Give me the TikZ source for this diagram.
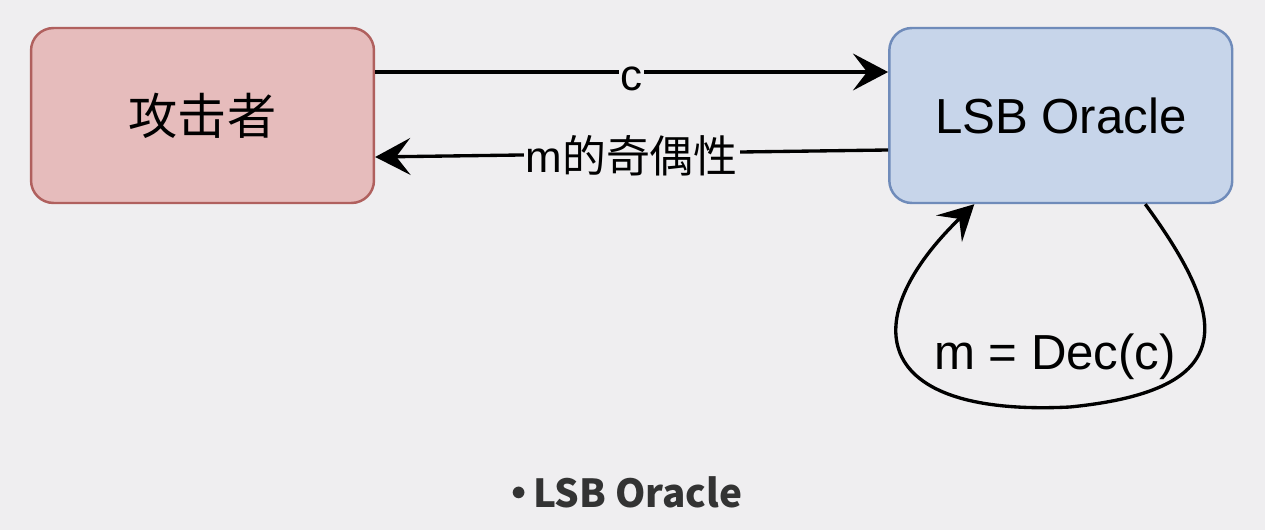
\documentclass[tikz,border=0pt]{standalone}
\usepackage{fontspec}
\setmainfont{Liberation Sans}
\newfontfamily\cjk{Noto Sans CJK SC}
\usepackage{tikz}
\usetikzlibrary{arrows.meta,positioning,calc}
\definecolor{bggray}{HTML}{EFEEF0}
\definecolor{redfill}{HTML}{E6BCBC}
\definecolor{redline}{HTML}{B0605E}
\definecolor{bluefill}{HTML}{C7D5EA}
\definecolor{blueline}{HTML}{6F8BBA}
\definecolor{textgray}{HTML}{333333}

\begin{document}
\begin{tikzpicture}[x=0.02cm, y=-0.02cm, node distance=10.26cm, every node/.style={font=\fontsize{28}{32}\selectfont}]
\tikzstyle{party}=[draw, line width=1.4pt, rounded corners=0.45cm, align=center, minimum width=6.86cm, minimum height=3.5cm, inner sep=0pt]
\tikzstyle{msg}=[fill=bggray, inner sep=1pt, font=\fontsize{25}{30}\selectfont]
\tikzstyle{link}=[-{Stealth[length=20pt, width=21pt, inset=8pt]}, line width=1.9pt]
% background and page size
\fill[bggray] (0,0) rectangle (1265,530);
\useasboundingbox (0,0) rectangle (1265,530);
\node[party, fill=redfill, draw=redline] (attacker) at (202.5,115.5) {\cjk 攻击者};
\node[party, fill=bluefill, draw=blueline, right=of attacker] (oracle) {LSB Oracle};
% messages
\draw[link] ([yshift=0.87cm]attacker.east) -- node[msg, yshift=-0.14cm] (c) {c} ([yshift=0.87cm]oracle.west);
\draw[link] ([yshift=-0.69cm]oracle.west) -- node[msg, yshift=-0.04cm] (parity) {m{\cjk 的奇偶性}} ([yshift=-0.83cm]attacker.east);
% decryption loop
\node (dec) at (1055,357) {m = Dec(c)};
\draw[link] ([xshift=1.69cm]oracle.south) .. controls (1230,320) and (1240,390) .. (1070,407)
  .. controls (870,417) and (855,320) .. ([xshift=-1.73cm]oracle.south);
\node[font=\cjk\bfseries\fontsize{22}{26}\selectfont, text=textgray] (title) at (627,492) {\raisebox{0.32ex}{\fontsize{16}{16}\selectfont$\bullet$}\,LSB Oracle};
\end{tikzpicture}
\end{document}
